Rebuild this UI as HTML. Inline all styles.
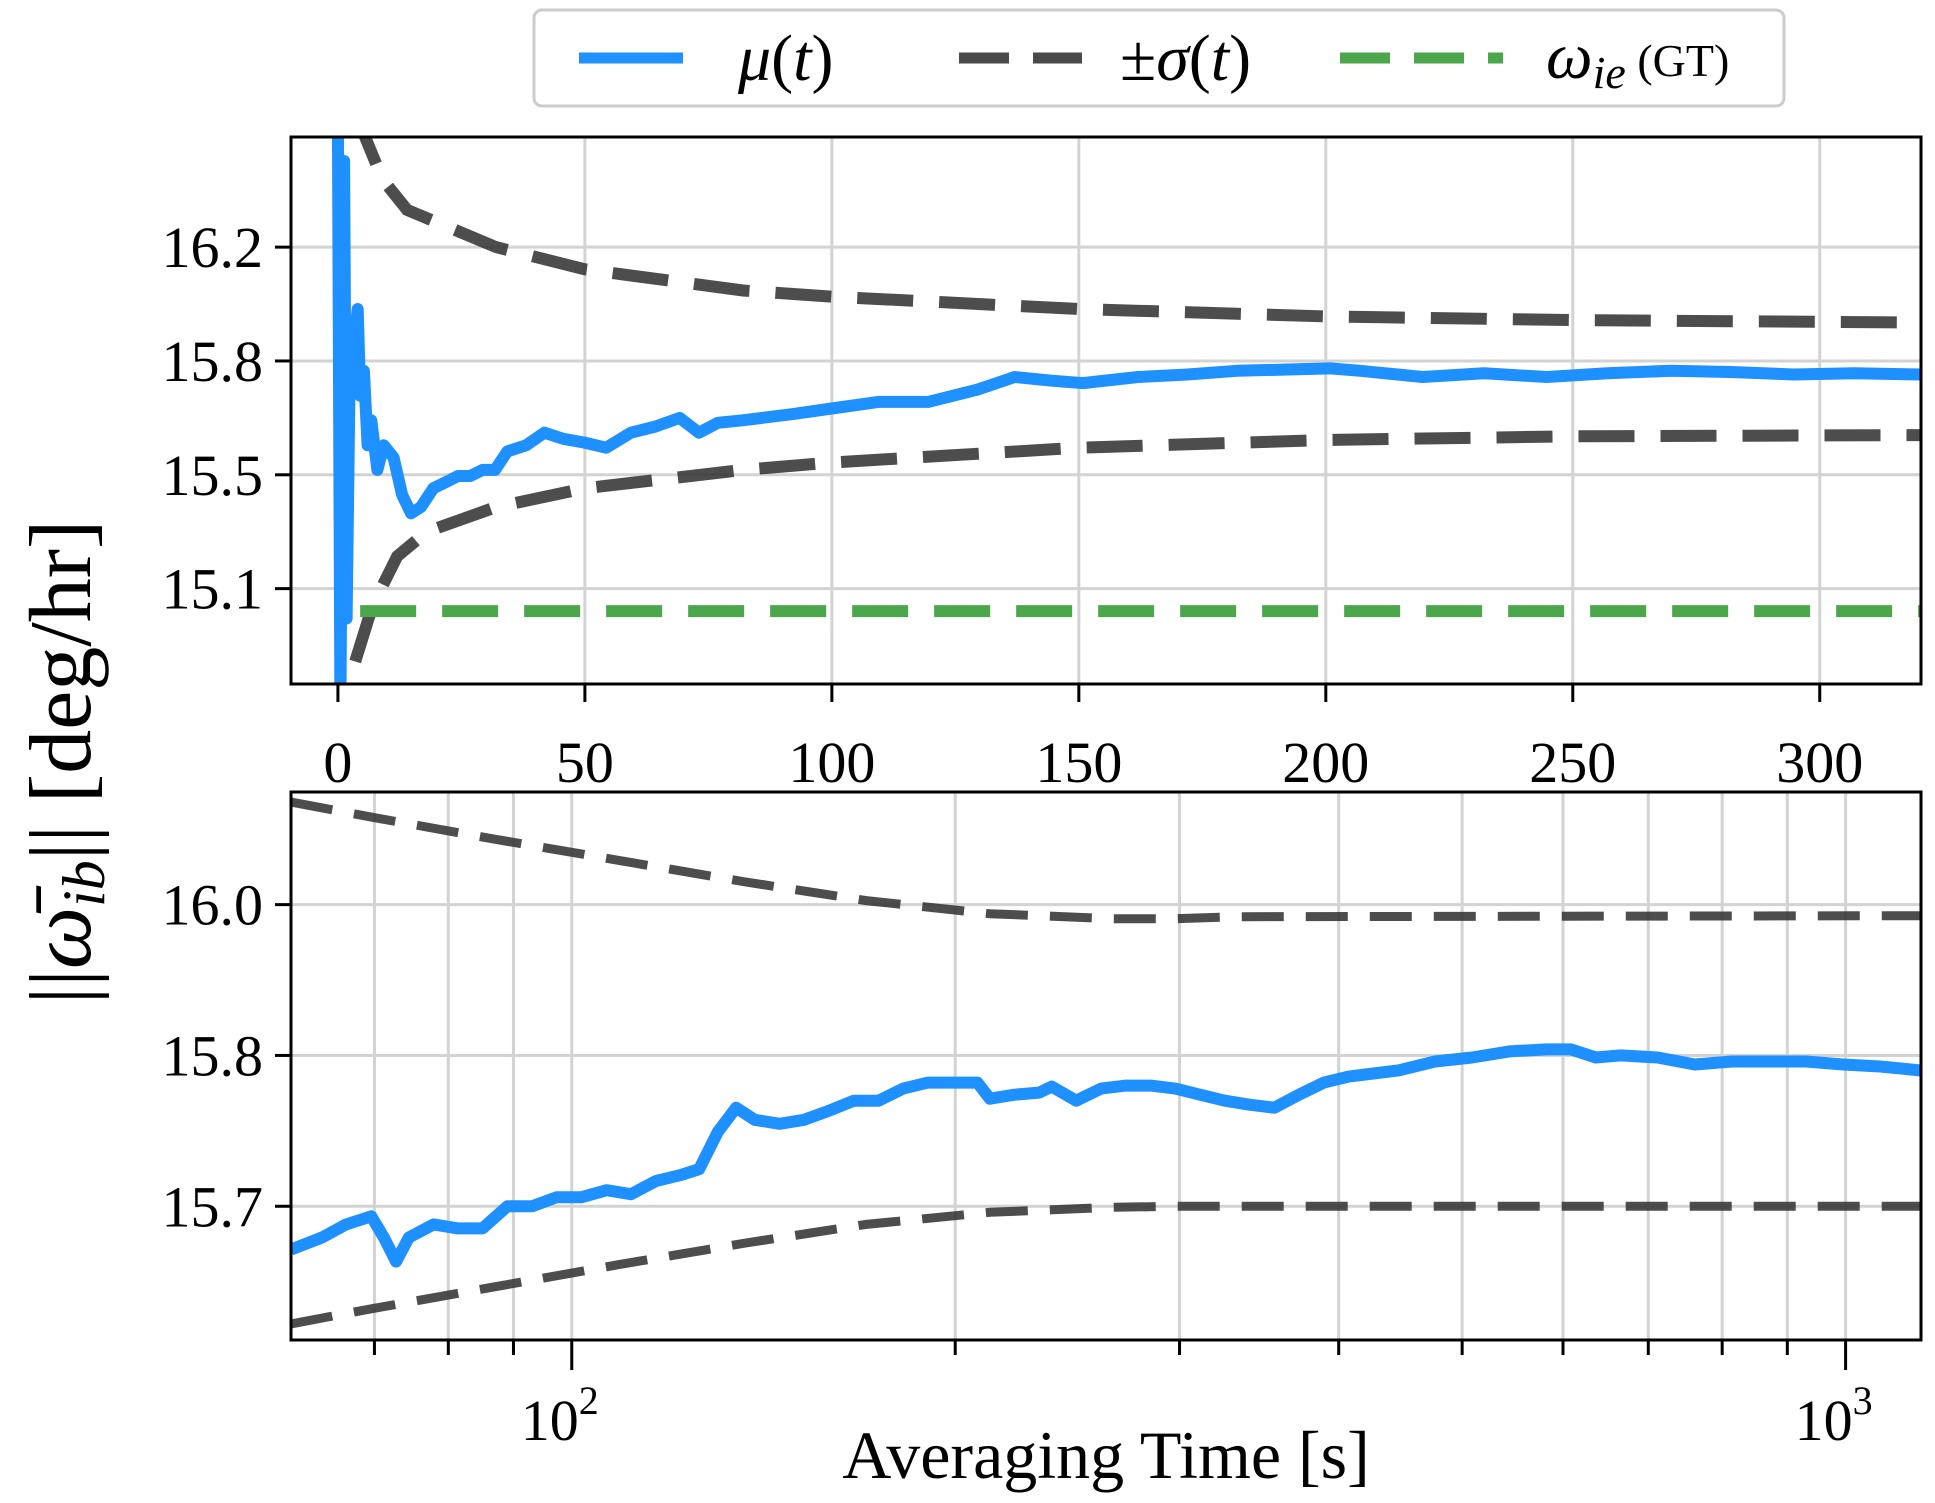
<!DOCTYPE html>
<html><head><meta charset="utf-8"><style>
html,body{margin:0;padding:0;background:#fff}
svg{display:block;font-family:"Liberation Serif",serif}
</style></head><body>
<svg id="chart" width="1935" height="1503" viewBox="0 0 1935 1503" xmlns="http://www.w3.org/2000/svg">
<g id="topPanel"></g>
<g id="botPanel"></g>
<g id="legend">
 <rect x="534" y="10" width="1250" height="96" rx="8" fill="#fff" stroke="#ccc" stroke-width="3"/>
 <g>
  <line x1="579" y1="58" x2="683" y2="58" stroke="#1e90ff" stroke-width="11"/>
  <text x="738" y="80" font-size="66" font-style="italic">μ<tspan font-style="normal">(</tspan>t<tspan font-style="normal">)</tspan></text>
 </g>
 <g>
  <line x1="959" y1="58" x2="1082" y2="58" stroke="#4a4a4a" stroke-width="11" stroke-dasharray="50,24"/>
  <text x="1120" y="80" font-size="66">±<tspan font-style="italic">σ</tspan>(<tspan font-style="italic">t</tspan>)</text>
 </g>
 <g>
  <line x1="1340" y1="58" x2="1503" y2="58" stroke="#4ca64c" stroke-width="11" stroke-dasharray="50,24"/>
  <text x="1546" y="78" font-size="66" font-style="italic">ω<tspan font-size="46" dy="10">ie</tspan><tspan font-style="normal" font-size="46" dy="-12"> (GT)</tspan></text>
 </g>
</g>
<text x="0" y="0" transform="translate(90,762) rotate(-90)" text-anchor="middle" font-size="88">||<tspan font-style="italic">ω̄</tspan><tspan font-style="italic" font-size="60" dy="14">ib</tspan><tspan dy="-14">|| [deg/hr]</tspan></text>
<text x="1106" y="1478" text-anchor="middle" font-size="68">Averaging Time [s]</text>
</svg>
<script>
// ---- Top panel data (linear time) ----
const topMuT = [0,0.5,1.25,1.75,2.5,3.26,4.0,4.5,5.26,6.0,6.76,8.0,9.27,11.27,13.0,14.8,16.8,19.3,21.8,24.3,26.8,29.3,31.8,34.3,38.1,41.8,45.6,49.8,54.3,59.3,64.3,69.2,73.1,76.9,81.9,91.9,100.7,109.4,119.5,129.5,137,144.5,150.8,162,172,182,200.9,207,219.6,232,244.7,257,269.7,282,294.8,307,320.6];
const topMuV = [16.6,14.7,16.47,14.983,15.949,15.868,15.989,15.707,15.788,15.546,15.627,15.466,15.546,15.506,15.385,15.325,15.345,15.406,15.426,15.446,15.446,15.466,15.466,15.526,15.546,15.587,15.567,15.555,15.538,15.587,15.607,15.635,15.587,15.619,15.627,15.647,15.667,15.687,15.687,15.727,15.768,15.756,15.748,15.768,15.776,15.788,15.796,15.788,15.768,15.780,15.768,15.780,15.788,15.784,15.776,15.780,15.776];
const topUpT = [3,5.5,9,14,32,50,82,100,150,200,250,320.5];
const topUpV = [16.9,16.548,16.411,16.311,16.19,16.118,16.049,16.029,15.989,15.965,15.953,15.945];
const topLoT = [3.5,7,12,18,32,50,82,100,150,200,250,320.5];
const topLoV = [14.843,15.024,15.185,15.265,15.345,15.406,15.466,15.490,15.538,15.563,15.575,15.579];
const gtValue = 15.007;
const topXTicks = [0,50,100,150,200,250,300];
const topYTicks = [16.19,15.82,15.45,15.08];
const topYLabels = ["16.2","15.8","15.5","15.1"];
// ---- Bottom panel data (log time) ----
const botMuT = [60.2,63.7,66.5,69.6,71.2,72.8,74.5,77.9,81.4,85.1,89.0,93.1,97.3,101.8,106.5,111.3,116.4,121.7,125.9,130.2,134.6,139.2,145.6,152.2,159.2,166.5,174.1,182.0,190.4,199.1,208.2,212.9,222.6,232.8,238.1,248.9,260.3,272.3,284.7,297.7,311.3,325.6,340.4,356.1,372.3,389.4,407.2,425.8,445.3,476.1,509.1,544.5,582.1,608.8,636.7,665.8,711.9,761.4,814.2,870.6,931.0,995.6,1064.6,1146];
const botMuV = [15.647,15.659,15.672,15.680,15.659,15.635,15.659,15.672,15.668,15.668,15.690,15.690,15.699,15.699,15.706,15.702,15.715,15.721,15.727,15.764,15.788,15.776,15.772,15.776,15.785,15.795,15.795,15.807,15.813,15.813,15.813,15.797,15.801,15.803,15.809,15.795,15.807,15.810,15.810,15.807,15.801,15.795,15.791,15.788,15.801,15.813,15.819,15.822,15.825,15.834,15.838,15.844,15.846,15.846,15.838,15.840,15.838,15.831,15.834,15.834,15.834,15.831,15.829,15.825];
const botSigT = [60.2,69.6,87.1,108.9,136.2,170.3,212.9,266.2,297.7,332.9,1146];
const botUpV = [16.092,16.077,16.055,16.034,16.013,15.994,15.981,15.976,15.976,15.978,15.979];
const botLoV = [15.573,15.588,15.610,15.632,15.653,15.672,15.684,15.689,15.690,15.690,15.690];
const botYTicks = [15.99,15.84,15.69];
const botYLabels = ["16.0","15.8","15.7"];
const botMajor = [100,1000];
const botMinor = [70,80,90,200,300,400,500,600,700,800,900];

const NS="http://www.w3.org/2000/svg";
function mk(tag,attrs,parent){const e=document.createElementNS(NS,tag);for(const k in attrs)e.setAttribute(k,attrs[k]);parent.appendChild(e);return e;}
const L=291,R=1921;
const tT=137,tB=684,tX0=-9.5,tX1=320.5,tY0=14.77,tY1=16.548;
const txs=t=>L+(t-tX0)/(tX1-tX0)*(R-L);
const tys=v=>tB-(v-tY0)/(tY1-tY0)*(tB-tT);
const bT=792,bB=1340,bX0=Math.log10(60.2),bX1=Math.log10(1146),bY0=15.557,bY1=16.102;
const bxs=t=>L+(Math.log10(t)-bX0)/(bX1-bX0)*(R-L);
const bys=v=>bB-(v-bY0)/(bY1-bY0)*(bB-bT);

function pathD(ts,vs,xs,ys){return ts.map((t,i)=>(i?'L':'M')+xs(t).toFixed(1)+','+ys(vs[i]).toFixed(1)).join(' ');}
function clip(g,T,B,id){const c=mk('clipPath',{id:id},g);mk('rect',{x:L,y:T,width:R-L,height:B-T},c);}
const FS=58;

const topG=document.getElementById('topPanel');
clip(topG,tT,tB,'ct');
const tg=mk('g',{},topG);
topXTicks.forEach(v=>{const x=txs(v);
  const gl=mk('line',{x1:x,x2:x,y1:tT,y2:tB,stroke:'#d3d3d3','stroke-width':3},tg);
  
  
  mk('line',{x1:x,x2:x,y1:tB,y2:tB+18,stroke:'#000','stroke-width':3},topG);
  const tx=mk('text',{x:x,y:tB+98,'text-anchor':'middle','font-size':FS},topG);tx.textContent=v;
  
  
});
topYTicks.forEach((v,i)=>{const y=tys(v);
  const gl=mk('line',{x1:L,x2:R,y1:y,y2:y,stroke:'#d3d3d3','stroke-width':3},tg);
  
  
  mk('line',{x1:L-16,x2:L,y1:y,y2:y,stroke:'#000','stroke-width':3},topG);
  const tx=mk('text',{x:L-28,y:y+20,'text-anchor':'end','font-size':FS},topG);tx.textContent=topYLabels[i];
  
  
});
const tc=mk('g',{'clip-path':'url(#ct)'},topG);
let p=mk('path',{d:pathD(topUpT,topUpV,txs,tys),fill:'none',stroke:'#333','stroke-opacity':0.87,'stroke-width':12,'stroke-dasharray':'56,26'},tc);


p=mk('path',{d:pathD(topLoT,topLoV,txs,tys),fill:'none',stroke:'#333','stroke-opacity':0.87,'stroke-width':12,'stroke-dasharray':'56,26'},tc);


p=mk('line',{x1:txs(4.5),x2:R,y1:tys(gtValue),y2:tys(gtValue),stroke:'#4ca64c','stroke-width':12,'stroke-dasharray':'56,26'},tc);


p=mk('path',{d:pathD(topMuT,topMuV,txs,tys),fill:'none',stroke:'#1e90ff','stroke-width':12,'stroke-linejoin':'round'},tc);


mk('rect',{x:L,y:tT,width:R-L,height:tB-tT,fill:'none',stroke:'#000','stroke-width':3},topG);

const botG=document.getElementById('botPanel');
clip(botG,bT,bB,'cb');
const bg=mk('g',{},botG);
botMajor.concat(botMinor).forEach(v=>{const x=bxs(v);const maj=botMajor.includes(v);
  const gl=mk('line',{x1:x,x2:x,y1:bT,y2:bB,stroke:'#d3d3d3','stroke-width':3},bg);
  
  
  mk('line',{x1:x,x2:x,y1:bB,y2:bB+(maj?30:15),stroke:'#000','stroke-width':3},botG);
  if(maj){const tx=mk('text',{x:x-12,y:bB+100,'text-anchor':'middle','font-size':FS},botG);
    tx.innerHTML='10<tspan font-size="40" dy="-26">'+Math.round(Math.log10(v))+'</tspan>';
    
    }
});
botYTicks.forEach((v,i)=>{const y=bys(v);
  const gl=mk('line',{x1:L,x2:R,y1:y,y2:y,stroke:'#d3d3d3','stroke-width':3},bg);
  
  
  mk('line',{x1:L-16,x2:L,y1:y,y2:y,stroke:'#000','stroke-width':3},botG);
  const tx=mk('text',{x:L-28,y:y+20,'text-anchor':'end','font-size':FS},botG);tx.textContent=botYLabels[i];
  
  
});
const bc=mk('g',{'clip-path':'url(#cb)'},botG);
p=mk('path',{d:pathD(botSigT,botUpV,bxs,bys),fill:'none',stroke:'#333','stroke-opacity':0.87,'stroke-width':9,'stroke-dasharray':'42,22'},bc);


p=mk('path',{d:pathD(botSigT,botLoV,bxs,bys),fill:'none',stroke:'#333','stroke-opacity':0.87,'stroke-width':9,'stroke-dasharray':'42,22'},bc);


p=mk('path',{d:pathD(botMuT,botMuV,bxs,bys),fill:'none',stroke:'#1e90ff','stroke-width':12,'stroke-linejoin':'round'},bc);


mk('rect',{x:L,y:bT,width:R-L,height:bB-bT,fill:'none',stroke:'#000','stroke-width':3},botG);
</script>
</body></html>
